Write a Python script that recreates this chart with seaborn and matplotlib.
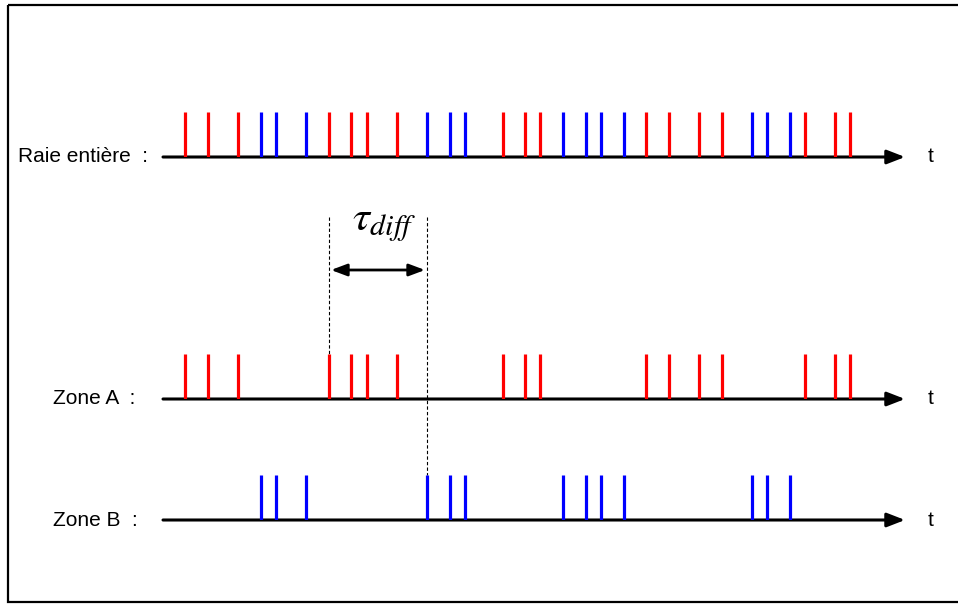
import matplotlib
matplotlib.use("Agg")
import matplotlib.pyplot as plt
from matplotlib.patches import Rectangle
import pandas as pd
import seaborn as sns

# ---- data (event times, in horizontal drawing units) ----
zone_a_times = [185, 208, 238, 329, 351, 367, 397, 503, 525, 540,
                646, 669, 699, 722, 805, 835, 850]
zone_b_times = [261, 276, 306, 427, 450, 465, 563, 586, 601, 624,
                752, 767, 790]
row_labels = ["Raie entière  :", "Zone A  :", "Zone B  :"]
axis_label = "t"
tau_label = r"$\tau_{diff}$"
tau_start = 329
tau_end = 427

sns.set_theme(style="white")
plt.rcParams["font.family"] = ["Liberation Sans", "DejaVu Sans"]
plt.rcParams["mathtext.fontset"] = "stix"

W, H = 958, 604
fig = plt.figure(figsize=(W / 100, H / 100), dpi=100)
ax = fig.add_axes([0, 0, 1, 1])
ax.set_xlim(0, W)
ax.set_ylim(H, 0)
ax.axis("off")

# frame
ax.add_patch(Rectangle((8, 5), 960, 597, fill=False, ec="black", lw=1.6))

line_y = [157, 399, 520]
label_x = [18, 53, 53]
tick_h = 45
x0, x1 = 163, 905

rows = [
    pd.DataFrame({"t": zone_a_times + zone_b_times,
                  "zone": ["A"] * len(zone_a_times) + ["B"] * len(zone_b_times)}),
    pd.DataFrame({"t": zone_a_times, "zone": ["A"] * len(zone_a_times)}),
    pd.DataFrame({"t": zone_b_times, "zone": ["B"] * len(zone_b_times)}),
]
palette = {"A": "#ff0000", "B": "#0000ff"}

for df, y, lab, lx in zip(rows, line_y, row_labels, label_x):
    rax = fig.add_axes([0, (H - y) / H, 1, tick_h / H])
    rax.set_xlim(0, W)
    rax.set_ylim(0, 1)
    rax.axis("off")
    sns.rugplot(data=df, x="t", hue="zone", palette=palette, height=1.0,
                linewidth=2.3, ax=rax, legend=False, expand_margins=False)
    # timeline arrow
    ax.annotate("", xy=(x1, y), xytext=(x0, y),
                arrowprops=dict(arrowstyle="-|>,head_length=0.9,head_width=0.35",
                                color="black", lw=2.2, shrinkA=0, shrinkB=0))
    ax.text(lx, y, lab, ha="left", va="center", fontsize=15, color="black")
    ax.text(931, y, axis_label, ha="center", va="center", fontsize=15, color="black")

# dashed guides
ax.plot([tau_start, tau_start], [217, line_y[1] - tick_h], color="black",
        lw=0.8, ls=(0, (3, 2)))
ax.plot([tau_end, tau_end], [217, line_y[2] - tick_h], color="black",
        lw=0.8, ls=(0, (3, 2)))
# double arrow
ax.annotate("", xy=(tau_end - 2, 270), xytext=(tau_start + 2, 270),
            arrowprops=dict(arrowstyle="<|-|>,head_length=0.8,head_width=0.3",
                            color="black", lw=2.0, shrinkA=0, shrinkB=0))
ax.text(384, 224, tau_label, ha="center", va="center", fontsize=31, color="black")

fig.savefig("out.png", dpi=100)
